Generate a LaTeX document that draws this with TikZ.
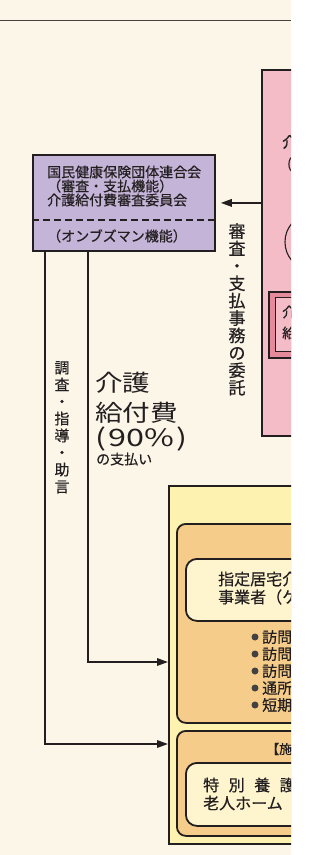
\documentclass[tikz,border=0pt]{standalone}
\usepackage{fontspec}
\usepackage{graphicx}
\setmainfont{Noto Sans CJK JP}
\newfontfamily\medf[FakeBold=0.5]{Noto Sans CJK JP}
\usetikzlibrary{arrows.meta}
\definecolor{cream}{HTML}{FCF6E9}
\definecolor{lav}{HTML}{C4B4D8}
\definecolor{pinkbox}{HTML}{F4BCC7}
\definecolor{pinkdeep}{HTML}{E48A9A}
\definecolor{ylw}{HTML}{FDF2B0}
\definecolor{orng}{HTML}{F6CC8A}
\definecolor{innerc}{HTML}{FEF5CF}
\definecolor{ink}{HTML}{231F20}
\tikzset{
  frame/.style={draw=ink, line width=1.8pt, anchor=north west, inner sep=0pt},
  rbox/.style={frame, rounded corners=9pt},
  arr/.style={draw=ink, line width=1.7pt, -{Triangle[length=11pt,width=7.5pt]}},
  txt/.style={inner sep=0pt, text=ink},
  vtxt/.style={txt, align=center, anchor=north},
  bul/.style={circle, fill=ink!85, inner sep=0pt, minimum size=7pt},
}
\begin{document}
\begin{tikzpicture}[x=1pt,y=-1pt]
\useasboundingbox (0,0) rectangle (320,855);
\fill[white] (0,0) rectangle (320,855);
\fill[cream] (0,0) rectangle (291,855);
\draw[ink!85, line width=0.9pt] (0,20) -- (291,20);

\begin{scope}
\clip (0,0) rectangle (291,855);
% insurer box (pink)
\node[frame, fill=pinkbox, minimum width=80pt, minimum height=366pt] (hokensha) at (261,69) {};
\node[txt, anchor=west, font=\medf\fontsize{15}{15}\selectfont] (hk1) at (282,142) {介護保険者};
\node[txt, anchor=west, font=\medf\fontsize{13}{13}\selectfont] (hk2) at (287,164) {(市町村)};
\draw[ink, line width=1.1pt] (306,242) ellipse (21 and 25);
\node[frame, line width=1.6pt, fill=pinkdeep, minimum width=60pt, minimum height=66pt] (nintei) at (268,291) {};
\node[frame, line width=1.3pt, fill=pinkbox, minimum width=50pt, minimum height=54pt] (ninteiin) at (275,297) {};
\node[txt, anchor=west, font=\medf\fontsize{14}{14}\selectfont] (nt1) at (282,312) {介護};
\node[txt, anchor=west, font=\medf\fontsize{14}{14}\selectfont] (nt2) at (282,333) {給付};

% provider area (yellow)
\node[frame, fill=ylw, minimum width=150pt, minimum height=358pt] (jigyosha) at (168,485) {};
\node[rbox, fill=orng, minimum width=140pt, minimum height=199pt] (kyotaku) at (176,523) {};
\node[rbox, rounded corners=11pt, fill=innerc, minimum width=130pt, minimum height=62pt] (shitei) at (185,558) {};
\node[txt, anchor=west, font=\medf\fontsize{16}{16}\selectfont] (sh1) at (218,579) {指定居宅介護支援};
\node[txt, anchor=west, font=\medf\fontsize{16}{16}\selectfont] (sh2) at (218,597) {事業者（ケアマネジャー）};
\node[bul] (b1) at (255,637) {};
\node[bul] (b2) at (255,654) {};
\node[bul] (b3) at (255,671) {};
\node[bul] (b4) at (255,688) {};
\node[bul] (b5) at (255,705) {};
\node[txt, anchor=west, font=\medf\fontsize{15}{15}\selectfont] (s1) at (262,637) {訪問介護};
\node[txt, anchor=west, font=\medf\fontsize{15}{15}\selectfont] (s2) at (262,654) {訪問入浴};
\node[txt, anchor=west, font=\medf\fontsize{15}{15}\selectfont] (s3) at (262,671) {訪問看護};
\node[txt, anchor=west, font=\medf\fontsize{15}{15}\selectfont] (s4) at (262,688) {通所介護};
\node[txt, anchor=west, font=\medf\fontsize{15}{15}\selectfont] (s5) at (262,705) {短期入所};

\node[rbox, fill=orng, minimum width=140pt, minimum height=105pt] (shisetsu) at (176,730) {};
\node[txt, anchor=west, font=\medf\fontsize{13}{13}\selectfont] (ss) at (266,749) {【施設サービス】};
\node[rbox, rounded corners=11pt, fill=innerc, minimum width=130pt, minimum height=63pt] (tokuyo) at (185,762) {};
\node[txt, anchor=west, font=\medf\fontsize{16}{16}\selectfont] (tk1) at (203,785) {特\hspace{9.5pt}別\hspace{9.5pt}養\hspace{9.5pt}護};
\node[txt, anchor=west, font=\medf\fontsize{16}{16}\selectfont] (tk2) at (203,803) {老人ホーム};
\end{scope}

% federation box (lavender)
\node[frame, fill=lav, minimum width=182pt, minimum height=96pt] (kokuho) at (32,154) {};
\draw[ink, line width=1.5pt, dash pattern=on 7pt off 4pt]
  ([yshift=-66pt]kokuho.north west) -- ([yshift=-66pt]kokuho.north east);
\node[txt, anchor=west, font=\medf\fontsize{14}{14}\selectfont] (k1) at (47,172) {国民健康保険団体連合会};
\node[txt, anchor=west, font=\medf\fontsize{14}{14}\selectfont] (k2) at (47,186) {（審査・支払機能）};
\node[txt, anchor=west, font=\medf\fontsize{14}{14}\selectfont] (k3) at (47,200) {介護給付費審査委員会};
\node[txt, anchor=west, font=\medf\fontsize{14}{14}\selectfont] (k4) at (47,236) {（オンブズマン機能）};

% connectors
\coordinate (a1) at (168,662);
\coordinate (a2) at (168,744);
\draw[arr, shorten >=5pt] (hokensha.west |- kokuho.east) -- (kokuho.east);
\draw[arr] ([xshift=56pt]kokuho.south west) |- (a1);
\draw[arr] ([xshift=13pt]kokuho.south west) |- (a2);

% labels
\node[vtxt, font=\medf\fontsize{17}{17.4}\selectfont] (l1) at (237,223)
  {審\\査\\・\\支\\払\\事\\務\\の\\委\\託};
\node[vtxt, font=\medf\fontsize{15}{17}\selectfont] (l2) at (62,361)
  {調\\査\\・\\指\\導\\・\\助\\言};
\node[txt, anchor=west, font=\fontsize{23}{23}\selectfont] (p1) at (95,383) {\scalebox{1.2}[1]{介護}};
\node[txt, anchor=west, font=\fontsize{23}{23}\selectfont] (p2) at (95,413) {\scalebox{1.2}[1]{給付費}};
\node[txt, anchor=west, font=\fontsize{24}{24}\selectfont] (p3) at (95,439) {\scalebox{1.35}[1]{(\kern1.5pt90\%\kern1.5pt)}};
\node[txt, anchor=west, font=\medf\fontsize{14}{14}\selectfont] (p4) at (96,459) {の支払い};
\end{tikzpicture}
\end{document}
